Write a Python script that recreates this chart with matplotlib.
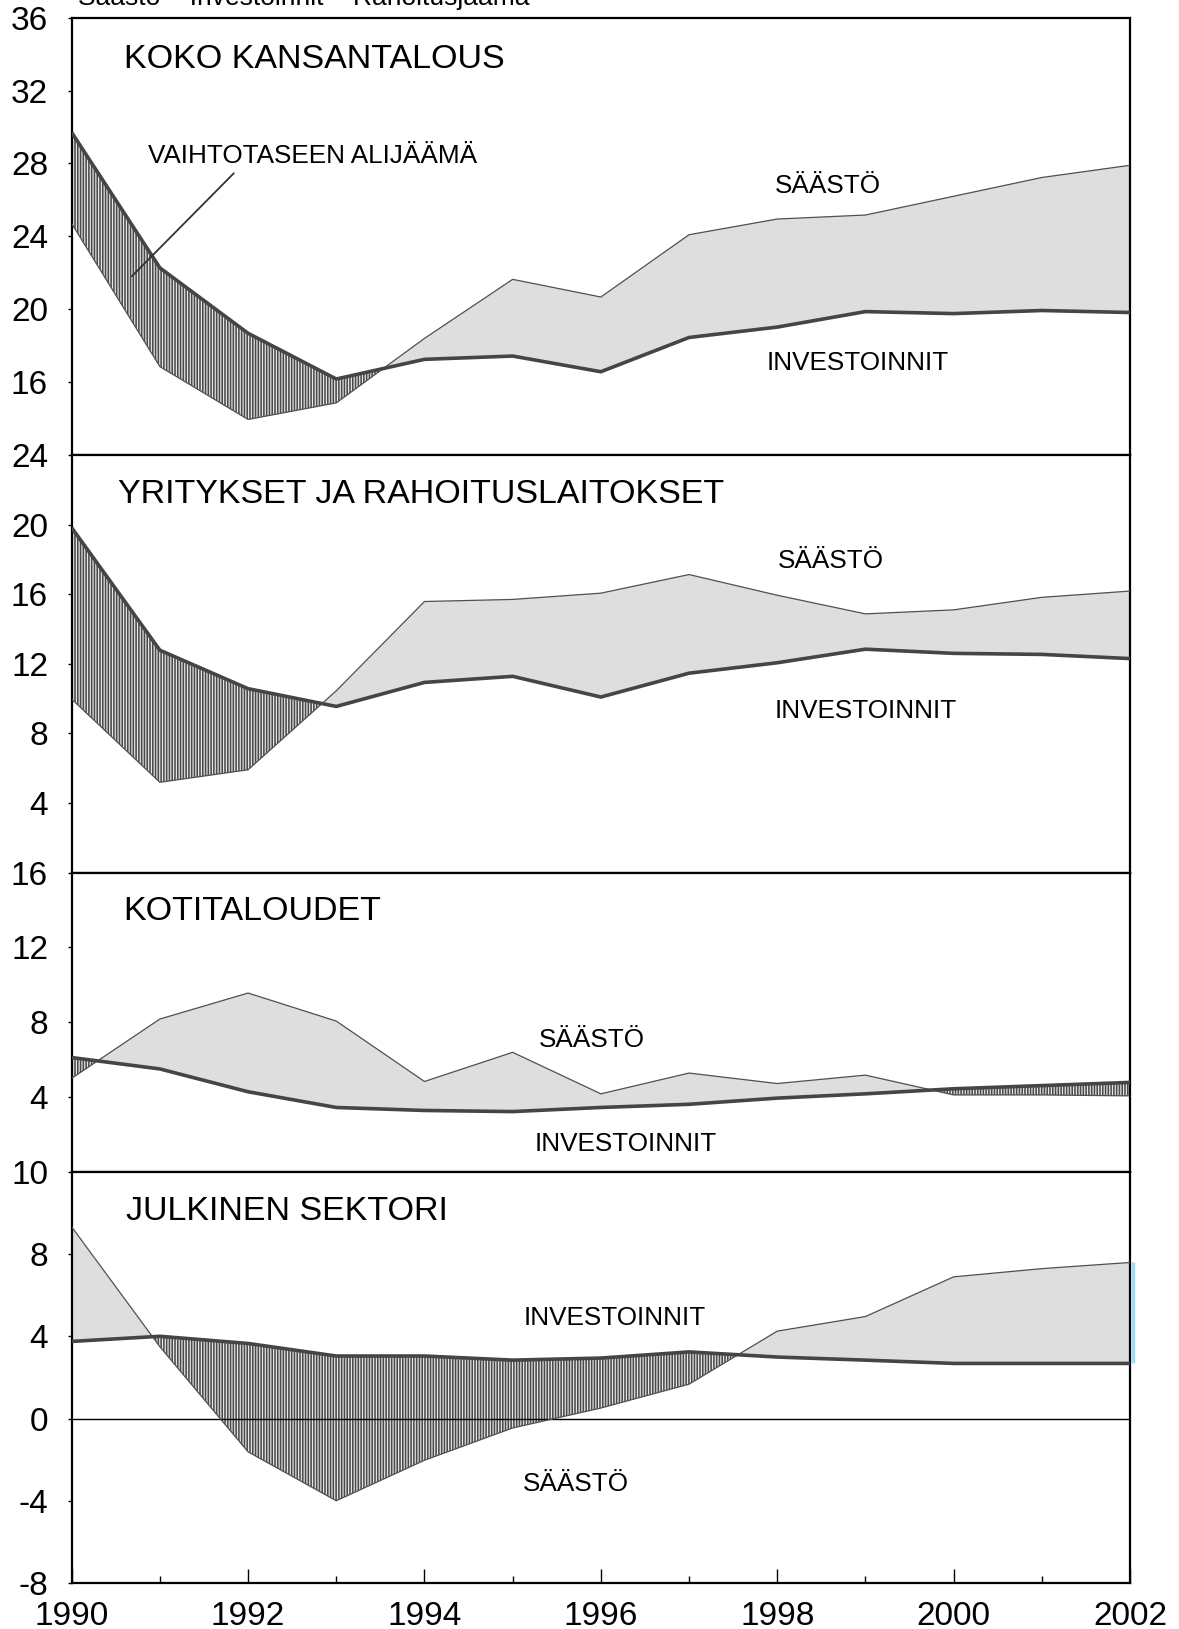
import matplotlib.pyplot as plt
import matplotlib.transforms as mtransforms

plt.rcParams["font.family"] = ["Liberation Sans", "DejaVu Sans"]
plt.rcParams["hatch.linewidth"] = 0.85

years = list(range(1990, 2003))

# koko kansantalous, % BKT:sta
total_saving = [24.7, 16.85, 13.95, 14.86, 18.4, 21.64, 20.67, 24.09, 24.95, 25.17, 26.2, 27.23, 27.9]
total_invest = [29.7, 22.27, 18.68, 16.17, 17.25, 17.43, 16.57, 18.45, 19.02, 19.87, 19.76, 19.93, 19.82]

# yritykset ja rahoituslaitokset
firm_saving = [9.97, 5.19, 5.91, 10.45, 15.58, 15.7, 16.06, 17.13, 15.94, 14.87, 15.1, 15.82, 16.18]
firm_invest = [19.82, 12.78, 10.57, 9.55, 10.93, 11.28, 10.09, 11.46, 12.06, 12.84, 12.6, 12.54, 12.3]

# kotitaloudet
hh_saving = [5.0, 8.17, 9.56, 8.06, 4.83, 6.39, 4.17, 5.28, 4.72, 5.17, 4.11, 4.11, 4.06]
hh_invest = [6.11, 5.5, 4.28, 3.44, 3.28, 3.22, 3.44, 3.61, 3.94, 4.17, 4.44, 4.61, 4.78]

# julkinen sektori
gov_saving = [9.32, 3.49, -1.62, -4.0, -2.03, -0.46, 0.51, 1.67, 4.25, 4.96, 6.89, 7.29, 7.59]
gov_invest = [3.75, 4.0, 3.65, 3.04, 3.04, 2.84, 2.94, 3.24, 2.99, 2.84, 2.68, 2.68, 2.68]

header = "Säästö – Investoinnit – Rahoitusjäämä"

W, H = 1179, 1629
LEFT, RIGHT = 71.7, 1130.0
# panel edges in pixels from the top
EDGES = [17.7, 455.0, 872.6, 1171.8, 1583.0]

DARK = "#454545"
LIGHT = "#dedede"
TITLE_SIZE = 24.5
LABEL_SIZE = 18.8
TICK_SIZE = 24


def add_panel(fig, i):
    top, bottom = EDGES[i], EDGES[i + 1]
    rect = [LEFT / W, 1 - bottom / H, (RIGHT - LEFT) / W, (bottom - top) / H]
    ax = fig.add_axes(rect)
    for s in ax.spines.values():
        s.set_linewidth(1.6)
        s.set_color("black")
    ax.set_xlim(1990, 2002)
    ax.tick_params(axis="y", direction="out", length=3, width=1, pad=14,
                   labelsize=TICK_SIZE)
    return ax


def draw_series(ax, saving, invest):
    ax.fill_between(years, saving, invest, where=[s >= v for s, v in zip(saving, invest)],
                    interpolate=True, facecolor=LIGHT, linewidth=0, zorder=1)
    ax.fill_between(years, saving, invest, where=[s <= v for s, v in zip(saving, invest)],
                    interpolate=True, facecolor="#4a4a4a", edgecolor="#e8e8e8",
                    hatch="||||||", linewidth=0, zorder=1)
    ax.plot(years, saving, color="#505050", lw=0.9, zorder=3)
    ax.plot(years, invest, color=DARK, lw=2.6, zorder=4, solid_capstyle="butt")


def label(ax, x, y, s, size=LABEL_SIZE):
    ax.text(x, y, s, fontsize=size, ha="left", va="center", zorder=5)


def main():
    fig = plt.figure(figsize=(W / 100, H / 100), dpi=100)

    fig.text(78 / W, 1 - 5 / H, header, fontsize=19, ha="left", va="baseline")

    # koko kansantalous
    ax = add_panel(fig, 0)
    draw_series(ax, total_saving, total_invest)
    ax.set_ylim(12, 36)
    ax.set_yticks([16, 20, 24, 28, 32, 36])
    ax.set_xticks([])
    label(ax, 1990.59, 33.7, "KOKO KANSANTALOUS", TITLE_SIZE)
    label(ax, 1990.87, 28.42, "VAIHTOTASEEN ALIJÄÄMÄ")
    label(ax, 1997.97, 26.77, "SÄÄSTÖ")
    label(ax, 1997.88, 17.03, "INVESTOINNIT")
    ax.annotate("", xy=(1990.66, 21.7), xytext=(1991.86, 27.57),
                arrowprops=dict(arrowstyle="-", color="#333333", lw=1.3), zorder=5)

    # yritykset
    ax = add_panel(fig, 1)
    draw_series(ax, firm_saving, firm_invest)
    ax.set_ylim(0, 24)
    ax.set_yticks([4, 8, 12, 16, 20, 24])
    ax.set_xticks([])
    label(ax, 1990.52, 21.73, "YRITYKSET JA RAHOITUSLAITOKSET", TITLE_SIZE)
    label(ax, 1998.01, 17.91, "SÄÄSTÖ")
    label(ax, 1997.97, 9.31, "INVESTOINNIT")

    # kotitaloudet
    ax = add_panel(fig, 2)
    draw_series(ax, hh_saving, hh_invest)
    ax.set_ylim(0, 16)
    ax.set_yticks([4, 8, 12, 16])
    ax.set_xticks([])
    label(ax, 1990.59, 13.9, "KOTITALOUDET", TITLE_SIZE)
    label(ax, 1995.3, 7.06, "SÄÄSTÖ")
    label(ax, 1995.25, 1.5, "INVESTOINNIT")

    # julkinen sektori
    ax = add_panel(fig, 3)
    draw_series(ax, gov_saving, gov_invest)
    ax.axhline(0, color="black", lw=1.0, zorder=2)
    ax.set_ylim(-8, 12)
    ax.set_yticks([-8, -4, 0, 4, 8, 12])
    ax.set_yticklabels(["-8", "-4", "0", "4", "8", "10"])
    label(ax, 1990.62, 10.08, "JULKINEN SEKTORI", TITLE_SIZE)
    label(ax, 1995.12, 4.91, "INVESTOINNIT")
    label(ax, 1995.12, -3.19, "SÄÄSTÖ")
    ax.set_xticks(range(1990, 2003, 2))
    ax.set_xticks(years, minor=True)
    ax.tick_params(axis="x", which="major", direction="in", length=10, width=1,
                   labelsize=TICK_SIZE, pad=13)
    ax.tick_params(axis="x", which="minor", direction="in", length=5, width=1)
    # thin blue edge on the last year's gap
    shift = mtransforms.offset_copy(ax.transData, fig=fig, x=2.5, y=0, units="dots")
    ax.vlines(years[-1], gov_invest[-1], gov_saving[-1], color="#9ddcf7", lw=2.5,
              transform=shift, zorder=0, clip_on=False)

    fig.savefig("out.png", dpi=100)


if __name__ == "__main__":
    main()
